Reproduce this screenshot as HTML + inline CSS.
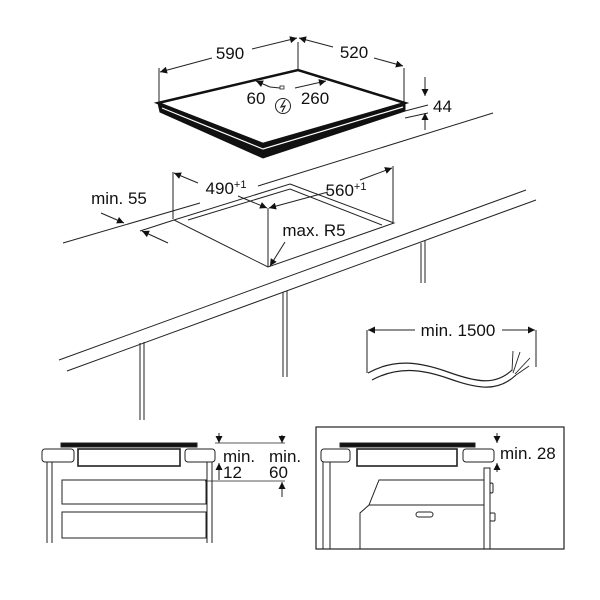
<!DOCTYPE html>
<html><head><meta charset="utf-8"><style>
html,body{margin:0;padding:0;background:#fff;width:600px;height:600px;overflow:hidden}
svg{display:block}
text{font-family:"Liberation Sans",Arial,sans-serif;fill:#111}
</style></head><body>
<svg width="600" height="600" viewBox="0 0 600 600" xmlns="http://www.w3.org/2000/svg">
<defs>
<marker id="a" viewBox="0 0 10 10" refX="10" refY="5" markerWidth="9" markerHeight="7" orient="auto-start-reverse" markerUnits="userSpaceOnUse"><path d="M0,0 L10,5 L0,10 z" fill="#111"/></marker>
</defs>
<g stroke="#222" stroke-width="1" fill="none">
<!-- hob -->
<polygon points="158,103 263,145 405,103 405,111 263,158 160,112" fill="#111" stroke="#111"/>
<polyline points="162,108 263,149 403,107" stroke="#fff" stroke-width="1.2"/>
<polygon points="158,103 298,70 405,103 263,144" fill="#fff" stroke="#111" stroke-width="2.5"/>
<!-- dims top -->
<line x1="159" y1="102" x2="159" y2="68"/>
<line x1="298" y1="70" x2="298" y2="42"/>
<line x1="404" y1="102" x2="404" y2="68"/>
<line x1="212" y1="58" x2="160" y2="72" marker-end="url(#a)"/>
<line x1="252" y1="49" x2="297" y2="38" marker-end="url(#a)"/>
<line x1="333" y1="47" x2="299" y2="38" marker-end="url(#a)"/>
<line x1="374" y1="58" x2="403" y2="66" marker-end="url(#a)"/>
<line x1="270" y1="87" x2="256" y2="81" marker-end="url(#a)"/>
<line x1="270" y1="87" x2="280" y2="88"/>
<line x1="295" y1="88" x2="326" y2="81" marker-end="url(#a)"/>
<rect x="280" y="86" width="4" height="3" stroke-width="0.8"/>
<circle cx="283" cy="106" r="7.5"/>
<path d="M285,100 L281,107 L285,106 L282,112" stroke-width="1.2"/>
<!-- 44 -->
<line x1="405" y1="111" x2="428" y2="105"/>
<line x1="405" y1="118" x2="428" y2="113"/>
<line x1="425" y1="77" x2="425" y2="96" marker-end="url(#a)"/>
<line x1="425" y1="130" x2="425" y2="113" marker-end="url(#a)"/>
<!-- countertop -->
<line x1="63" y1="243" x2="200" y2="203"/>
<line x1="258" y1="186" x2="493" y2="113"/>
<line x1="59" y1="360" x2="526" y2="190"/>
<line x1="67" y1="371" x2="536" y2="200"/>
<line x1="421" y1="243" x2="421" y2="283"/><line x1="425" y1="241" x2="425" y2="283"/>
<line x1="283" y1="292" x2="283" y2="377"/><line x1="287" y1="291" x2="287" y2="377"/>
<line x1="140" y1="343" x2="140" y2="420"/><line x1="144" y1="342" x2="144" y2="420"/>
<!-- cutout -->
<polygon points="290,184 394,223 268,267 174,220"/>
<polyline points="188,220 290,189 382,225"/>
<line x1="140" y1="231" x2="174" y2="220"/>
<line x1="173" y1="172" x2="173" y2="219"/>
<line x1="393" y1="166" x2="393" y2="222"/>
<line x1="268" y1="208" x2="268" y2="267"/>
<line x1="198" y1="183" x2="174" y2="173" marker-end="url(#a)"/>
<line x1="238" y1="196" x2="267" y2="208" marker-end="url(#a)"/>
<line x1="328" y1="192" x2="269" y2="208" marker-end="url(#a)"/>
<line x1="360" y1="180" x2="392" y2="168" marker-end="url(#a)"/>
<line x1="101" y1="213" x2="124" y2="223" marker-end="url(#a)"/>
<line x1="168" y1="243" x2="142" y2="231" marker-end="url(#a)"/>
<line x1="285" y1="242" x2="270" y2="266" marker-end="url(#a)"/>
<!-- cable -->
<line x1="367" y1="373" x2="367" y2="330"/>
<line x1="536" y1="367" x2="536" y2="330"/>
<line x1="415" y1="330" x2="368" y2="330" marker-end="url(#a)"/>
<line x1="502" y1="330" x2="535" y2="330" marker-end="url(#a)"/>
<path d="M368,373 C395,358 420,362 448,372 S495,386 512,370" stroke-width="1.2"/>
<path d="M372,380 C398,366 422,369 450,379 S498,392 516,375" stroke-width="1.2"/>
<path d="M512,371 L513,351 M513,373 L520,352 M515,374 L530,358 M516,375 L529,366" stroke-width="0.9"/>
<!-- bottom left -->
<rect x="61" y="443" width="136" height="4" fill="#111"/>
<rect x="42" y="449" width="32" height="13" rx="3"/>
<rect x="185" y="449" width="30" height="13" rx="3"/>
<rect x="78" y="449" width="102" height="17" stroke-width="1.6"/>
<line x1="47" y1="462" x2="47" y2="543"/><line x1="52" y1="462" x2="52" y2="543"/>
<line x1="207" y1="462" x2="207" y2="543"/><line x1="212" y1="462" x2="212" y2="543"/>
<rect x="62" y="480" width="144" height="24"/>
<rect x="62" y="512" width="144" height="26"/>
<line x1="215" y1="443" x2="285" y2="443" stroke-width="0.7"/>
<line x1="205" y1="481" x2="285" y2="481" stroke-width="0.7"/>
<line x1="219" y1="433" x2="219" y2="443" marker-end="url(#a)"/>
<line x1="219" y1="480" x2="219" y2="463" marker-end="url(#a)"/>
<line x1="282" y1="435" x2="282" y2="443" marker-end="url(#a)"/>
<line x1="282" y1="497" x2="282" y2="482" marker-end="url(#a)"/>
<!-- bottom right -->
<rect x="316" y="427" width="248" height="122" stroke-width="1.2"/>
<rect x="340" y="443" width="135" height="4" fill="#111"/>
<rect x="321" y="449" width="29" height="13" rx="3"/>
<rect x="463" y="449" width="31" height="13" rx="3"/>
<rect x="357" y="449" width="100" height="17" stroke-width="1.6"/>
<line x1="323" y1="462" x2="323" y2="549"/><line x1="330" y1="462" x2="330" y2="549"/>
<rect x="484" y="468" width="6" height="81"/>
<path d="M484,480 L379,480 L369,505 L484,505 M369,505 L360,513 L360,549"/>
<rect x="416" y="512" width="17" height="5" rx="2.5"/>
<rect x="490" y="513" width="5" height="8" rx="1"/>
<rect x="490" y="483" width="3" height="10" rx="1.5"/>
<line x1="497" y1="433" x2="497" y2="443" marker-end="url(#a)"/>
<line x1="497" y1="472" x2="497" y2="463" marker-end="url(#a)"/>
</g>
<g font-size="17">
<text x="230" y="59" text-anchor="middle">590</text>
<text x="354" y="58" text-anchor="middle">520</text>
<text x="256" y="104" text-anchor="middle">60</text>
<text x="315" y="104" text-anchor="middle">260</text>
<text x="433" y="112">44</text>
<text x="226" y="194" text-anchor="middle">490<tspan font-size="11" dy="-6">+1</tspan></text>
<text x="346" y="196" text-anchor="middle">560<tspan font-size="11" dy="-6">+1</tspan></text>
<text x="119" y="204" text-anchor="middle">min. 55</text>
<text x="314" y="236" text-anchor="middle">max. R5</text>
<text x="458" y="336" text-anchor="middle">min. 1500</text>
<text x="500" y="459">min. 28</text>
<text x="223" y="462">min.</text>
<text x="223" y="478">12</text>
<text x="269" y="462">min.</text>
<text x="269" y="478">60</text>
</g>
</svg>
</body></html>
